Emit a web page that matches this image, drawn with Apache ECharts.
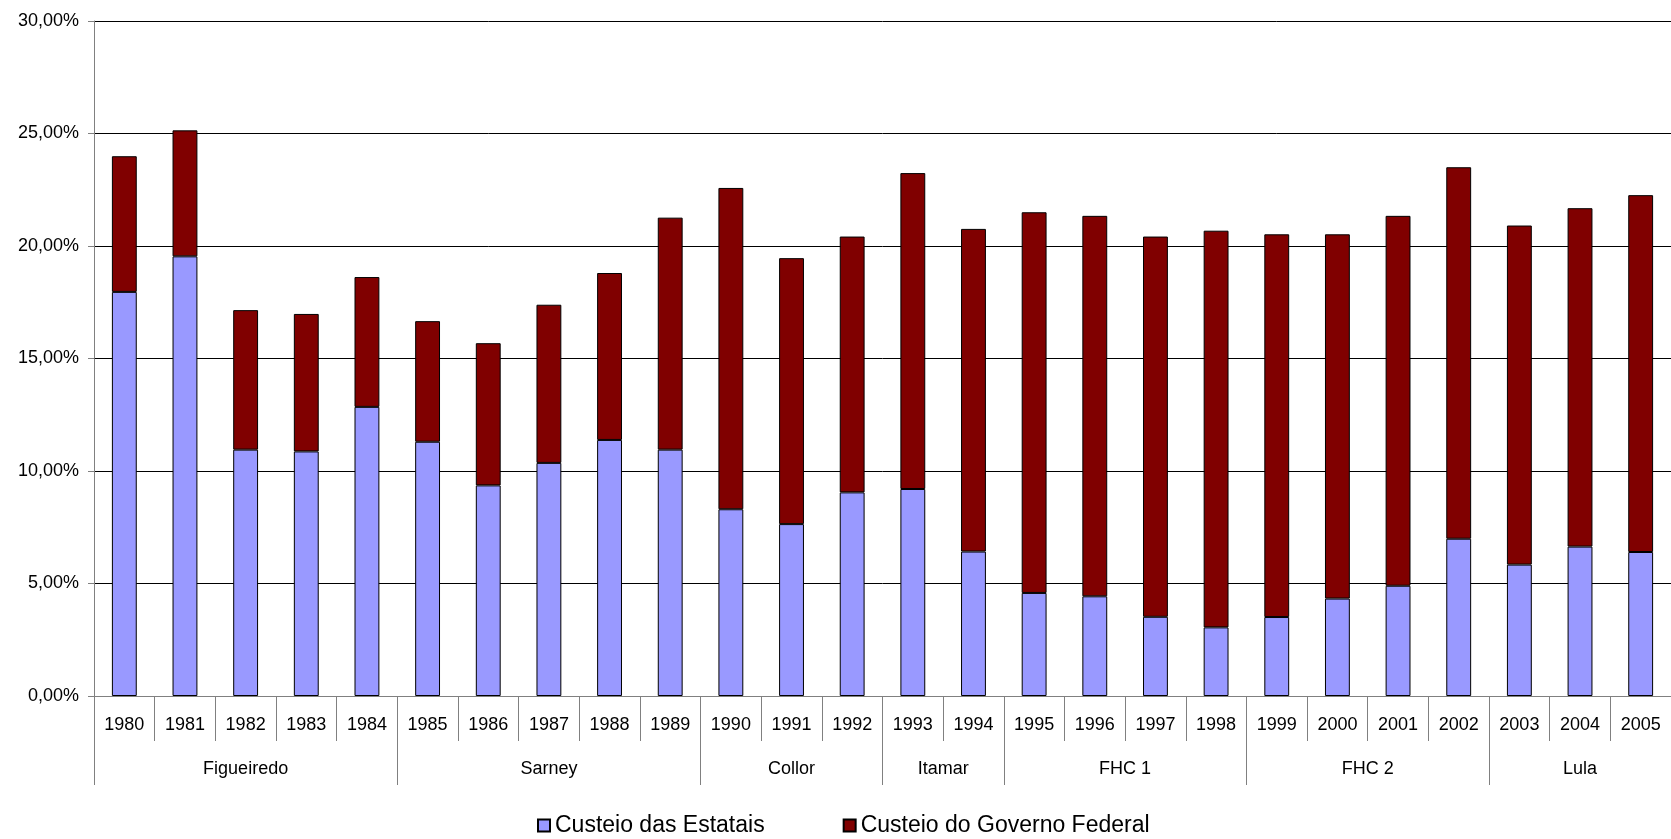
<!DOCTYPE html>
<html>
<head>
<meta charset="utf-8">
<script src="https://cdn.jsdelivr.net/npm/echarts@6/dist/echarts.min.js"></script>
<style>
  html, body { margin: 0; padding: 0; background: #fff; }
  #chart { width: 1671px; height: 839px; }
</style>
</head>
<body>
<div id="chart"></div>
<script>
// Years on the category axis
const years = ['1980','1981','1982','1983','1984','1985','1986','1987','1988','1989',
  '1990','1991','1992','1993','1994','1995','1996','1997','1998','1999',
  '2000','2001','2002','2003','2004','2005'];

// Presidential terms and how many years each covers
const termNames = ['Figueiredo', 'Sarney', 'Collor', 'Itamar', 'FHC 1', 'FHC 2', 'Lula'];
const termYears = [5, 5, 3, 2, 4, 4, 3];

// Custeio das Estatais (%)
const estatais = [17.96, 19.54, 10.95, 10.87, 12.85, 11.30, 9.36, 10.36, 11.38, 10.95,
  8.30, 7.64, 9.05, 9.20, 6.42, 4.58, 4.43, 3.52, 3.05, 3.51,
  4.33, 4.90, 6.99, 5.84, 6.64, 6.40];

// Bar totals (%) — the federal government share is the remainder on top
const totals = [23.99, 25.14, 17.15, 16.98, 18.62, 16.66, 15.68, 17.39, 18.80, 21.26,
  22.58, 19.46, 20.42, 23.24, 20.76, 21.50, 21.34, 20.42, 20.68, 20.52,
  20.52, 21.34, 23.50, 20.91, 21.68, 22.26];

const governo = totals.map((t, i) => +(t - estatais[i]).toFixed(2));

// Term boundaries and centres, in category units along the axis
const termStarts = [];
const termCentres = [];
let acc = 0;
termYears.forEach(n => { termStarts.push(acc); termCentres.push(acc + n / 2); acc += n; });

const FONT = '"Liberation Sans", Arial, sans-serif';
const pct = v => v.toFixed(2).replace('.', ',') + '%';

const chart = echarts.init(document.getElementById('chart'), null, { renderer: 'canvas' });

chart.setOption({
  animation: false,
  backgroundColor: '#ffffff',
  textStyle: { fontFamily: FONT, color: '#000' },
  grid: { left: 94, top: 21, width: 1583, height: 675, containLabel: false },
  legend: {
    left: 537,
    top: 814,
    padding: 0,
    itemWidth: 12,
    itemHeight: 12,
    itemGap: 78,
    icon: 'rect',
    textStyle: { fontFamily: FONT, fontSize: 23, color: '#000' },
    data: ['Custeio das Estatais', 'Custeio do Governo Federal']
  },
  xAxis: [
    {
      type: 'category',
      data: years,
      position: 'bottom',
      axisLine: { show: true, lineStyle: { color: '#808080', width: 1 } },
      axisTick: { show: true, interval: 0, length: 45, lineStyle: { color: '#808080', width: 1 } },
      axisLabel: {
        interval: 0, margin: 29, verticalAlign: 'middle',
        fontFamily: FONT, fontSize: 18, color: '#000'
      },
      splitLine: { show: false }
    },
    {
      type: 'value',
      min: 0,
      max: years.length,
      position: 'bottom',
      axisLine: { show: false },
      splitLine: { show: false },
      axisTick: {
        show: true, length: 89, customValues: termStarts,
        lineStyle: { color: '#808080', width: 1 }
      },
      axisLabel: {
        show: true, margin: 73, verticalAlign: 'middle',
        customValues: termCentres,
        fontFamily: FONT, fontSize: 18, color: '#000',
        formatter: v => {
          const i = termCentres.findIndex(c => Math.abs(c - v) < 1e-6);
          return i >= 0 ? termNames[i] : '';
        }
      }
    }
  ],
  yAxis: {
    type: 'value',
    min: 0,
    max: 30,
    interval: 5,
    axisLine: { show: true, lineStyle: { color: '#808080', width: 1 } },
    axisTick: { show: true, length: 6, lineStyle: { color: '#808080' } },
    axisLabel: { margin: 15, fontFamily: FONT, fontSize: 18, color: '#000', formatter: pct },
    splitLine: { show: true, lineStyle: { color: '#000', width: 1 } }
  },
  series: [
    {
      name: 'Custeio das Estatais',
      type: 'bar',
      stack: 'custeio',
      xAxisIndex: 0,
      barWidth: '41%',
      itemStyle: { color: '#9999FF', borderColor: '#000', borderWidth: 1 },
      data: estatais
    },
    {
      name: 'Custeio do Governo Federal',
      type: 'bar',
      stack: 'custeio',
      xAxisIndex: 0,
      barWidth: '41%',
      itemStyle: { color: '#800000', borderColor: '#000', borderWidth: 1 },
      data: governo
    }
  ]
});
</script>
</body>
</html>
